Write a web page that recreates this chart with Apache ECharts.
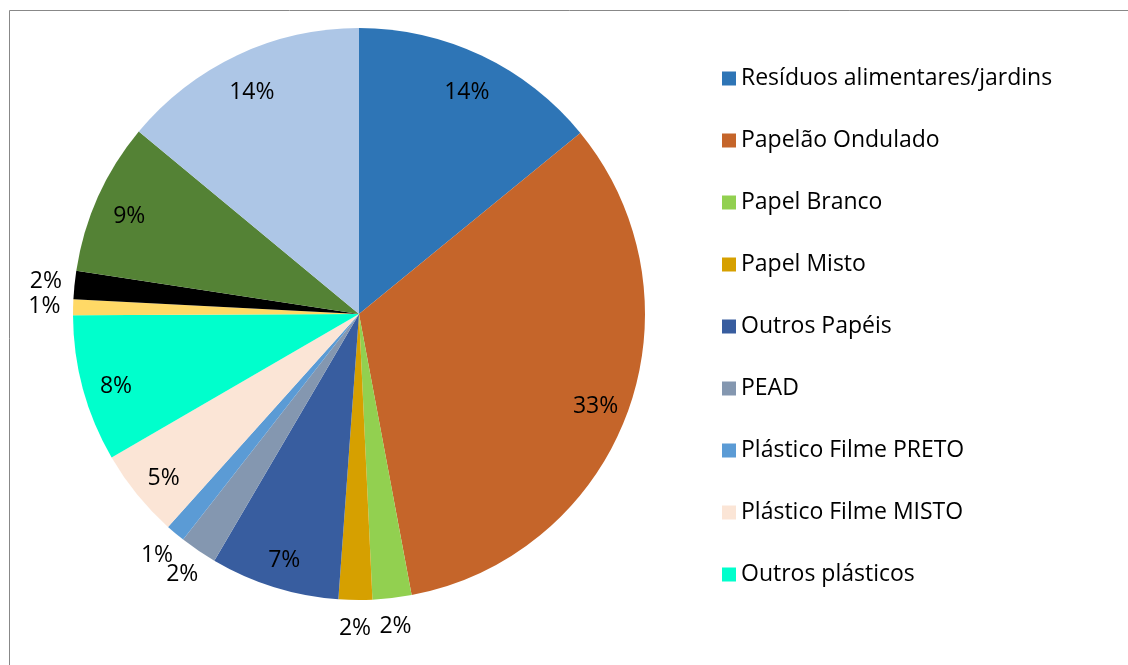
<!DOCTYPE html>
<html>
<head>
<meta charset="utf-8">
<script src="https://cdn.jsdelivr.net/npm/echarts@6/dist/echarts.min.js"></script>
<style>
html,body{margin:0;padding:0;background:#fff;}
#chart{width:1128px;height:665px;}
</style>
</head>
<body>
<div id="chart"></div>
<script>
const categories = ['Resíduos alimentares/jardins','Papelão Ondulado','Papel Branco','Papel Misto','Outros Papéis','PEAD','Plástico Filme PRETO','Plástico Filme MISTO','Outros plásticos','Vidro','Metais','Têxteis','Rejeitos'];
const values = [14.1, 33.0, 2.2, 1.9, 7.3, 2.1, 1.1, 5.0, 8.3, 0.9, 1.6, 8.6, 14.0];
const colors = ['#2E75B6','#C5652A','#92D050','#D6A000','#385D9F','#8497B0','#5B9BD5','#FBE5D6','#00FFCC','#FFD966','#000000','#548235','#ADC6E6'];
const legendNames = categories.slice(0, 9);

const FONT = 'Open Sans';
const R = 286;
const center = [359, 314];
const fmt = p => Math.round(p.percent) + '%';

const baseData = categories.map((n, i) => ({ name: n, value: values[i], itemStyle: { color: colors[i] } }));
const innerLabelData = categories.map((n, i) => ({ name: n, value: values[i], label: { show: values[i] >= 4 } }));
const outerLabelData = categories.map((n, i) => ({ name: n, value: values[i], label: { show: values[i] < 4 } }));

const labelBase = { position: 'inside', formatter: fmt, color: '#000', fontFamily: FONT, fontSize: 23 };

const chart = echarts.init(document.getElementById('chart'), null, { renderer: 'canvas' });
chart.setOption({
  animation: false,
  backgroundColor: '#fff',
  graphic: [{ type: 'rect', shape: { x: 9.5, y: 10.5, width: 1200, height: 700 }, style: { fill: 'none', stroke: '#888', lineWidth: 1 }, silent: true, z: 0 }],
  legend: {
    data: legendNames,
    orient: 'vertical',
    left: 722,
    top: 67,
    padding: 0,
    itemWidth: 14,
    itemHeight: 14,
    itemGap: 39,
    icon: 'rect',
    textStyle: { fontFamily: FONT, fontSize: 23, color: '#000' },
    selectedMode: false
  },
  series: [
    {
      type: 'pie', radius: [0, R], center: center, startAngle: 90, clockwise: true,
      label: { show: false }, labelLine: { show: false },
      itemStyle: { borderWidth: 0 },
      emphasis: { disabled: true },
      data: baseData
    },
    {
      type: 'pie', radius: [R * 0.74, R], center: center, startAngle: 90, clockwise: true,
      silent: true, avoidLabelOverlap: false,
      itemStyle: { color: 'rgba(0,0,0,0)', borderWidth: 0 },
      label: labelBase, labelLine: { show: false },
      labelLayout: { hideOverlap: false, dy: 6 },
      emphasis: { disabled: true },
      data: innerLabelData
    },
    {
      type: 'pie', radius: [R, R * 1.18], center: center, startAngle: 90, clockwise: true,
      silent: true, avoidLabelOverlap: false,
      itemStyle: { color: 'rgba(0,0,0,0)', borderWidth: 0 },
      label: labelBase, labelLine: { show: false },
      labelLayout: { hideOverlap: false },
      emphasis: { disabled: true },
      data: outerLabelData
    }
  ]
});
</script>
</body>
</html>
